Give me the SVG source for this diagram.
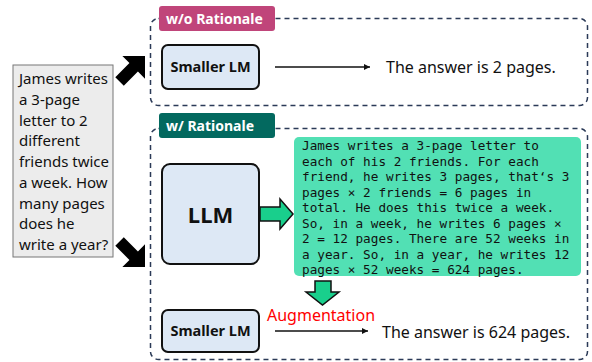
<svg xmlns="http://www.w3.org/2000/svg" width="592" height="362" viewBox="0 0 592 362">
<defs>
<style>
.frame{fill:none;stroke:#2b3a57;stroke-width:1.5;stroke-dasharray:5 4}
.tag{stroke:none}
.tagt{font-family:"Noto Sans","Open Sans",sans-serif;font-weight:bold;font-size:14px;fill:#fff}
.lm{fill:#dde8f5;stroke:#111;stroke-width:2}
.lmt{font-family:"Noto Sans","Open Sans",sans-serif;font-weight:bold;font-size:14.5px;fill:#111;text-anchor:middle}
.ans{font-family:"Noto Sans","Open Sans",sans-serif;font-size:16px;fill:#111}
.q{font-family:"Noto Sans","Open Sans",sans-serif;font-size:15px;fill:#111}
.mono{font-family:"DejaVu Sans Mono","Liberation Mono",monospace;font-size:12.7px;fill:#111}
.line{stroke:#111;stroke-width:1.5;fill:none}
.garrow{fill:#19cf8c;stroke:#111;stroke-width:1.5}
</style>
<marker id="ah" markerWidth="8" markerHeight="8" refX="6" refY="3" orient="auto" markerUnits="userSpaceOnUse">
<path d="M0,0 L6,3 L0,6 Z" fill="#111"/>
</marker>
</defs>
<rect width="592" height="362" fill="#fff"/>

<g id="frame-wo">
<rect class="frame" x="150.5" y="18.5" width="437" height="87" rx="8"/>
<rect class="tag" x="159" y="6" width="116" height="25" rx="3" fill="#c0457a"/>
<text class="tagt" x="166" y="24">w/o Rationale</text>
</g>

<g id="frame-w">
<rect class="frame" x="150.5" y="128.5" width="437" height="231" rx="8"/>
<rect class="tag" x="159" y="113" width="116" height="25" rx="3" fill="#03695f"/>
<text class="tagt" x="166" y="131">w/ Rationale</text>
</g>

<g id="question">
<rect x="13" y="65" width="100" height="192" fill="#ececec" stroke="#777" stroke-width="1"/>
<text class="q">
<tspan x="19" y="84">James writes</tspan>
<tspan x="19" y="105">a 3-page</tspan>
<tspan x="19" y="126">letter to 2</tspan>
<tspan x="19" y="146">different</tspan>
<tspan x="19" y="167">friends twice</tspan>
<tspan x="19" y="188">a week. How</tspan>
<tspan x="19" y="209">many pages</tspan>
<tspan x="19" y="229">does he</tspan>
<tspan x="19" y="250">write a year?</tspan>
</text>
</g>

<g id="lm-top">
<rect class="lm" x="162" y="45" width="97" height="44" rx="6"/>
<text class="lmt" x="210.5" y="72">Smaller LM</text>
</g>
<g id="answer-top">
<text class="ans" x="386" y="73">The answer is 2 pages.</text>
</g>

<g id="llm">
<rect class="lm" x="162" y="164" width="97" height="100" rx="8"/>
<text x="210.5" y="223" text-anchor="middle" font-family="Noto Sans, Open Sans, sans-serif" font-weight="bold" font-size="22" fill="#111">LLM</text>
</g>

<g id="rationale">
<rect x="294" y="137" width="287" height="139" rx="5" fill="#52e0b4"/>
<text class="mono">
<tspan x="302" y="150">James writes a 3-page letter to</tspan>
<tspan x="302" y="166">each of his 2 friends. For each</tspan>
<tspan x="302" y="181">friend, he writes 3 pages, that‘s 3</tspan>
<tspan x="302" y="197">pages × 2 friends = 6 pages in</tspan>
<tspan x="302" y="212">total. He does this twice a week.</tspan>
<tspan x="302" y="228">So, in a week, he writes 6 pages ×</tspan>
<tspan x="302" y="243">2 = 12 pages. There are 52 weeks in</tspan>
<tspan x="302" y="259">a year. So, in a year, he writes 12</tspan>
<tspan x="302" y="274">pages × 52 weeks = 624 pages.</tspan>
</text>
</g>

<g id="lm-bottom">
<rect class="lm" x="162" y="310" width="97" height="42" rx="6"/>
<text class="lmt" x="210.5" y="336">Smaller LM</text>
</g>
<g id="answer-bottom">
<text class="ans" x="382" y="338">The answer is 624 pages.</text>
</g>

<g id="connectors">
<path d="M0,0 L-16,-16 L-16,-6 L-36,-6 L-36,6 L-16,6 L-16,16 Z" transform="translate(145,56) rotate(-45)" fill="#000"/>
<path d="M0,0 L-16,-16 L-16,-6 L-36,-6 L-36,6 L-16,6 L-16,16 Z" transform="translate(145,267) rotate(45)" fill="#000"/>
<line class="line" x1="275" y1="67" x2="370" y2="67" marker-end="url(#ah)"/>
<line class="line" x1="275" y1="331" x2="368" y2="331" marker-end="url(#ah)"/>
<path class="garrow" d="M260,207 L280,207 L280,199 L293,214 L280,229 L280,221 L260,221 Z"/>
<path class="garrow" d="M315,281 L331,281 L331,292 L339,292 L322.5,305 L306,292 L315,292 Z"/>
<text x="267" y="321" font-family="Noto Sans, Open Sans, sans-serif" font-size="16" fill="#ff0000">Augmentation</text>
</g>
</svg>
